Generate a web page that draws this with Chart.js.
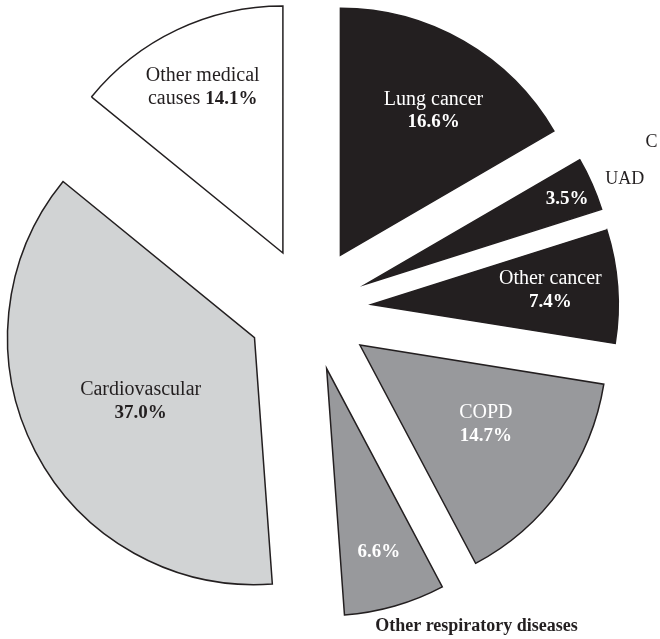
<!DOCTYPE html>
<html>
<head>
<meta charset="utf-8">
<script src="https://cdn.jsdelivr.net/npm/chart.js@4.4.1/dist/chart.umd.min.js"></script>
<style>
  html, body { margin: 0; padding: 0; background: #ffffff; }
  #wrap { width: 660px; height: 639px; }
</style>
</head>
<body>
<div id="wrap"><canvas id="pie" width="660" height="639"></canvas></div>
<script>
// Causes of death and their share (%)
const causes = ['Lung cancer', 'UAD', 'Other cancer', 'COPD', 'Other respiratory diseases', 'Cardiovascular', 'Other medical causes'];
const shares = [16.6, 3.5, 7.4, 14.7, 6.6, 37.0, 14.1];

// Slice colours
const INK = '#231f20';
const sliceColors = [INK, INK, INK, '#98999c', '#98999c', '#d1d3d4', '#ffffff'];

const pct = i => shares[i].toFixed(1) + '%';
const SERIF = '"Liberation Serif", "Times New Roman", serif';

// Label placement: slice, direction (degrees clockwise from 12 o'clock) and
// distance as a fraction of the radius, measured from the slice's own tip.
const labelSpecs = [
  { slice: 0, deg: 32.8, r: 0.696, color: '#ffffff', lines: [[['Lung cancer', false]], [[pct(0), true]]] },
  { slice: 1, deg: 67.1, r: 0.883, color: '#ffffff', lines: [[[pct(1), true]]] },
  { slice: 1, deg: 67.9, r: 1.13, color: INK, size: 18, lines: [[['UAD', false]]] },
  { slice: 1, deg: 63.6, r: 1.29, color: INK, size: 18, lines: [[['C', false]]] },
  { slice: 2, deg: 85.5, r: 0.727, color: '#ffffff', lines: [[['Other cancer', false]], [[pct(2), true]]] },
  { slice: 3, deg: 122.3, r: 0.603, color: '#ffffff', lines: [[['COPD', false]], [[pct(3), true]]] },
  { slice: 4, deg: 164.1, r: 0.773, color: '#ffffff', lines: [[[pct(4), true]]] },
  { slice: 4, deg: 149.8, r: 1.206, color: INK, size: 18, lines: [[['Other respiratory diseases', true]]] },
  { slice: 5, deg: 240.6, r: 0.529, color: INK, lines: [[['Cardiovascular', false]], [[pct(5), true]]] },
  { slice: 6, deg: 334.2, r: 0.746, color: INK, lines: [[['Other medical', false]], [['causes ', false], [pct(6), true]]] }
];

// Pull every slice outward along its middle angle
const EXPLODE = 62;
const explodePlugin = {
  id: 'explode',
  afterDatasetUpdate(chart, args) {
    args.meta.data.forEach(arc => {
      const mid = (arc.startAngle + arc.endAngle) / 2;
      arc.x += EXPLODE * Math.cos(mid);
      arc.y += EXPLODE * Math.sin(mid);
    });
  }
};

// Slice names and percentages
const labelPlugin = {
  id: 'sliceLabels',
  afterDatasetsDraw(chart) {
    const arcs = chart.getDatasetMeta(0).data;
    const ctx = chart.ctx;
    ctx.save();
    ctx.textBaseline = 'middle';
    labelSpecs.forEach(spec => {
      const arc = arcs[spec.slice];
      const a = (spec.deg - 90) * Math.PI / 180;
      const cx = arc.x + Math.cos(a) * spec.r * arc.outerRadius;
      const cy = arc.y + Math.sin(a) * spec.r * arc.outerRadius;
      const size = spec.size || 20;
      const lh = 23;
      const top = cy - (spec.lines.length - 1) * lh / 2;
      ctx.fillStyle = spec.color;
      spec.lines.forEach((runs, li) => {
        const y = top + li * lh;
        const widths = runs.map(([t, b]) => {
          ctx.font = (b ? 'bold ' : '') + (b && !spec.size ? 19 : size) + 'px ' + SERIF;
          return ctx.measureText(t).width;
        });
        let x = cx - widths.reduce((s, w) => s + w, 0) / 2;
        runs.forEach(([t, b], k) => {
          ctx.font = (b ? 'bold ' : '') + (b && !spec.size ? 19 : size) + 'px ' + SERIF;
          ctx.textAlign = 'left';
          ctx.fillText(t, x, y);
          x += widths[k];
        });
      });
    });
    ctx.restore();
  }
};

new Chart(document.getElementById('pie'), {
  type: 'pie',
  data: {
    labels: causes,
    datasets: [{
      data: shares,
      backgroundColor: sliceColors,
      borderColor: INK,
      borderWidth: 1.5,
      borderJoinStyle: 'miter'
    }]
  },
  options: {
    responsive: false,
    animation: false,
    radius: 247,
    layout: { padding: { left: 0, right: 41, top: 0, bottom: 21 } },
    plugins: {
      legend: { display: false },
      tooltip: { enabled: false }
    }
  },
  plugins: [explodePlugin, labelPlugin]
});
</script>
</body>
</html>
